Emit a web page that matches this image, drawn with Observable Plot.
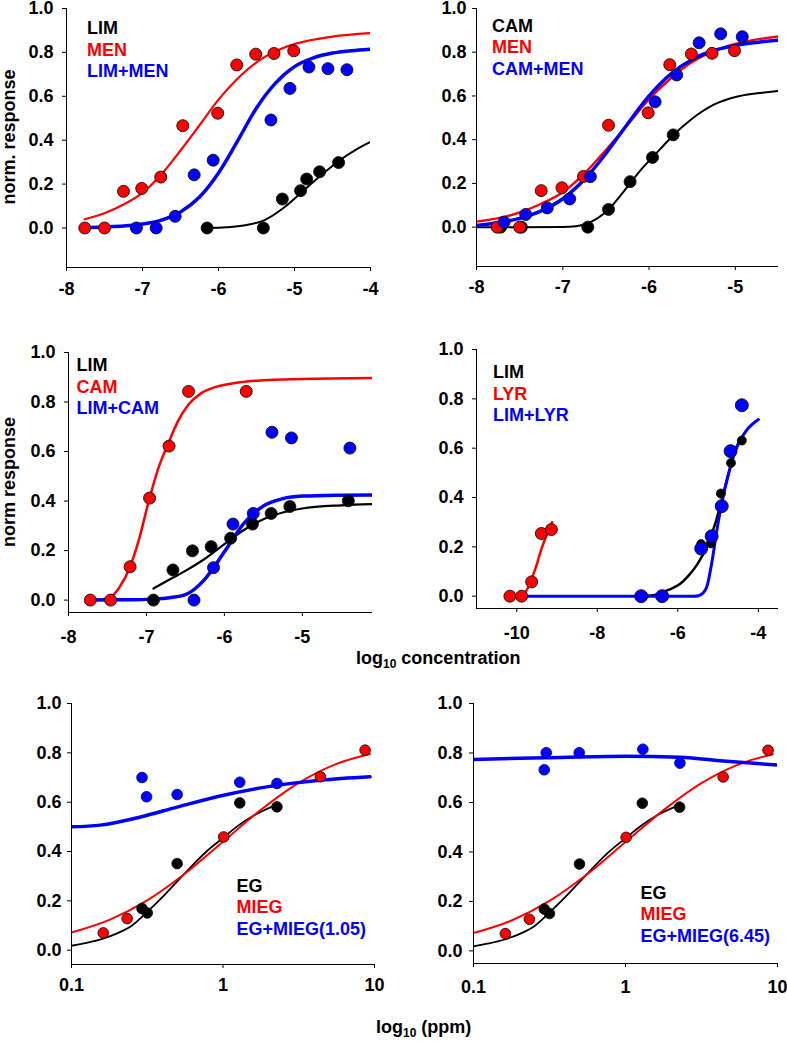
<!DOCTYPE html>
<html>
<head>
<meta charset="utf-8">
<script src="https://cdn.jsdelivr.net/npm/d3@7"></script>
<script src="https://cdn.jsdelivr.net/npm/@observablehq/plot@0.6"></script>
<style>
  body { margin: 0; background: #fff; }
  #wrap { position: relative; width: 787px; height: 1043px; font-family: "Liberation Sans", Arial, sans-serif; font-weight: bold; color: #000; }
  .panel { position: absolute; }
  .leg { position: absolute; font-size: 18px; line-height: 21.5px; white-space: nowrap; }
  .ytitle { position: absolute; font-size: 18px; line-height: 18px; white-space: nowrap; transform: translate(-50%, -50%) rotate(-90deg); }
  .xtitle { position: absolute; font-size: 18px; line-height: 21px; white-space: nowrap; }
  .xtitle sub { font-size: 12px; vertical-align: -4px; line-height: 0; }
</style>
</head>
<body>
<div id="wrap"></div>
<script>
// ---------- tick labels ----------
const yTicks = [0, 0.2, 0.4, 0.6, 0.8, 1.0];
const xTicksA = [-8, -7, -6, -5, -4];
const xTicksB = [-8, -7, -6, -5];
const xTicksC = [-8, -7, -6, -5];
const xTicksD = [-10, -8, -6, -4];
const xTicksE = [0.1, 1, 10];

// ---------- Panel A: LIM / MEN / LIM+MEN (log10 M) ----------
const menConc = [-7.76, -7.50, -7.25, -7.01, -6.76, -6.47, -6.01, -5.76, -5.51, -5.27, -5.01];
const menResp = [0, 0, 0.167, 0.18, 0.232, 0.466, 0.523, 0.743, 0.792, 0.795, 0.807];
const menFitConc = [-8, -7.76, -7.5, -7.25, -7, -6.75, -6.5, -6.25, -6, -5.75, -5.5, -5.25, -5, -4.5, -4];
const menFitResp = [0.025, 0.040, 0.067, 0.107, 0.160, 0.245, 0.353, 0.468, 0.585, 0.68, 0.755, 0.805, 0.838, 0.872, 0.888];

const limConcA = [-6.15, -5.41, -5.16, -4.92, -4.84, -4.67, -4.42];
const limRespA = [0, 0, 0.132, 0.17, 0.223, 0.256, 0.298];
const limFitConcA = [-6.15, -5.9, -5.65, -5.4, -5.15, -4.9, -4.65, -4.4, -4.2, -4];
const limFitRespA = [0, 0.003, 0.012, 0.035, 0.09, 0.165, 0.24, 0.31, 0.355, 0.392];

const limMenConc = [-7.08, -6.82, -6.57, -6.32, -6.07, -5.31, -5.06, -4.81, -4.56, -4.31];
const limMenResp = [0, 0, 0.053, 0.242, 0.309, 0.492, 0.636, 0.733, 0.726, 0.721];
const limMenFitConc = [-7.76, -7.5, -7.25, -7, -6.75, -6.5, -6.25, -6, -5.75, -5.5, -5.25, -5, -4.75, -4.5, -4.25, -4];
const limMenFitResp = [0.002, 0.005, 0.009, 0.018, 0.036, 0.073, 0.141, 0.251, 0.396, 0.547, 0.66, 0.735, 0.775, 0.797, 0.808, 0.815];

// ---------- Panel B: CAM / MEN / CAM+MEN ----------
const camConcB = [-7.72, -7.48, -6.71, -6.47, -6.22, -5.96, -5.72];
const camRespB = [0, 0, 0, 0.081, 0.208, 0.319, 0.422];
const camFitConcB = [-8, -7.5, -7, -6.85, -6.75, -6.6, -6.47, -6.35, -6.22, -6.1, -5.96, -5.84, -5.72, -5.52, -5.25, -5, -4.75, -4.5];
const camFitRespB = [0, 0, 0.001, 0.004, 0.012, 0.04, 0.08, 0.135, 0.2, 0.26, 0.32, 0.37, 0.42, 0.49, 0.56, 0.595, 0.612, 0.623];

const camMenConc = [-7.68, -7.43, -7.18, -6.92, -6.68, -5.93, -5.68, -5.42, -5.17, -4.92];
const camMenResp = [0.023, 0.058, 0.088, 0.129, 0.231, 0.573, 0.696, 0.843, 0.884, 0.871];
const camMenFitConc = [-8, -7.75, -7.5, -7.25, -7, -6.75, -6.5, -6.25, -6, -5.75, -5.5, -5.25, -5, -4.75, -4.5];
const camMenFitResp = [0.008, 0.02, 0.04, 0.074, 0.13, 0.218, 0.337, 0.472, 0.6, 0.7, 0.767, 0.808, 0.831, 0.845, 0.855];

// ---------- Panel C: LIM / CAM / LIM+CAM ----------
const camConcC = [-7.72, -7.46, -7.21, -6.96, -6.71, -6.46, -5.72];
const camRespC = [0, 0, 0.135, 0.412, 0.622, 0.843, 0.843];
const camFitConcC = [-7.72, -7.6, -7.46, -7.35, -7.21, -7.1, -6.96, -6.85, -6.71, -6.6, -6.46, -6.3, -6.1, -5.8, -5.5, -5, -4.1];
const camFitRespC = [0, 0.002, 0.012, 0.05, 0.135, 0.24, 0.412, 0.53, 0.64, 0.72, 0.79, 0.835, 0.862, 0.88, 0.888, 0.893, 0.897];

const limConcC = [-6.91, -6.66, -6.41, -6.17, -5.92, -5.64, -5.40, -5.16, -4.41];
const limRespC = [0, 0.122, 0.199, 0.216, 0.25, 0.307, 0.35, 0.378, 0.401];
const limFitConcC = [-6.91, -6.75, -6.5, -6.25, -6, -5.75, -5.5, -5.25, -5, -4.5, -4.1];
const limFitRespC = [0.047, 0.075, 0.118, 0.167, 0.226, 0.283, 0.327, 0.354, 0.370, 0.383, 0.388];

const limCamConc = [-6.39, -6.14, -5.89, -5.63, -5.39, -5.14, -4.39];
const limCamResp = [0, 0.131, 0.307, 0.35, 0.678, 0.655, 0.614];
const limCamFitConc = [-7.72, -7.25, -7, -6.75, -6.5, -6.25, -6, -5.75, -5.5, -5.25, -5, -4.5, -4.1];
const limCamFitResp = [0, 0.001, 0.003, 0.008, 0.022, 0.085, 0.195, 0.31, 0.38, 0.41, 0.42, 0.424, 0.425];

// ---------- Panel D: LIM / LYR / LIM+LYR ----------
const lyrConc = [-10.17, -9.88, -9.63, -9.39, -9.14];
const lyrResp = [0, 0, 0.058, 0.254, 0.27];
const lyrFitConc = [-10.17, -9.95, -9.86, -9.75, -9.63, -9.5, -9.39, -9.25, -9.12];
const lyrFitResp = [0, 0, 0.002, 0.025, 0.07, 0.13, 0.19, 0.25, 0.30];

const limConcD = [-6.93, -6.42, -5.42, -5.18, -4.93, -4.68, -4.41];
const limRespD = [0, 0, 0.211, 0.214, 0.416, 0.54, 0.631];
const limFitConcD = [-6.93, -6.6, -6.44, -6.2, -5.94, -5.75, -5.53, -5.28, -5.07, -4.91, -4.74, -4.58, -4.41];
const limFitRespD = [0, 0.004, 0.011, 0.028, 0.05, 0.08, 0.126, 0.2, 0.295, 0.39, 0.497, 0.585, 0.64];

const limLyrConc = [-6.91, -6.39, -5.42, -5.16, -4.91, -4.69, -4.41];
const limLyrResp = [0, 0, 0.193, 0.243, 0.365, 0.588, 0.774];
const limLyrFitConc = [-10.17, -6, -5.6, -5.49, -5.38, -5.28, -5.16, -5.03, -4.91, -4.74, -4.54, -4.29, -4];
const limLyrFitResp = [0, 0, 0, 0.002, 0.012, 0.038, 0.132, 0.268, 0.376, 0.497, 0.605, 0.673, 0.716];

// ---------- Panels E/F: EG / MIEG / EG+MIEG (ppm) ----------
const egPpm = [0.292, 0.316, 0.498, 1.29, 2.27];
const egResp = [0.169, 0.151, 0.351, 0.597, 0.581];
const egFitPpm = [0.1, 0.126, 0.158, 0.2, 0.251, 0.316, 0.398, 0.501, 0.631, 0.794, 1, 1.259, 1.585, 2.27];
const egFitResp = [0.018, 0.03, 0.045, 0.068, 0.1, 0.155, 0.215, 0.28, 0.345, 0.405, 0.455, 0.505, 0.545, 0.59];

const miegPpm = [0.162, 0.233, 1.01, 4.39, 8.67];
const miegResp = [0.07, 0.128, 0.459, 0.703, 0.811];
const miegFitPpm = [0.1, 0.178, 0.316, 0.562, 1, 1.78, 3.16, 5.62, 9.33];
const miegFitResp = [0.072, 0.123, 0.202, 0.311, 0.44, 0.569, 0.678, 0.755, 0.795];

const egMieg105Ppm = [0.292, 0.313, 0.498, 1.29, 2.27];
const egMieg105Resp = [0.70, 0.622, 0.631, 0.681, 0.676];
const egMieg105FitPpm = [0.1, 0.155, 0.285, 0.498, 1.01, 1.95, 4.39, 9.35];
const egMieg105FitResp = [0.5, 0.507, 0.54, 0.58, 0.628, 0.662, 0.689, 0.703];

const egMieg645Ppm = [0.292, 0.301, 0.496, 1.30, 2.28];
const egMieg645Resp = [0.732, 0.801, 0.801, 0.815, 0.759];
const egMieg645FitPpm = [0.1, 0.3, 1, 2.28, 4.4, 10];
const egMieg645FitResp = [0.774, 0.781, 0.787, 0.783, 0.768, 0.751];

// ---------- helpers ----------
const RED = "#ff0000", BLUE = "#0000ff", BLACK = "#000000";
const pts = (xs, ys) => xs.map((x, i) => ({x, y: ys[i]}));
const wrap = document.getElementById("wrap");

function panel(cfg) {
  const marks = [];
  for (const s of cfg.series) {
    marks.push(Plot.line(pts(s.fitX, s.fitY), {x: "x", y: "y", stroke: s.color, strokeWidth: s.lw, curve: "monotone-x", clip: true}));
  }
  for (const s of cfg.series) {
    marks.push(Plot.dot(pts(s.x, s.y), {x: "x", y: "y", r: s.r, fill: s.color, stroke: s.dotStroke ?? "#111", strokeWidth: 0.9}));
  }
  marks.push(Plot.ruleX([cfg.xDomain[0]], {stroke: "#000", strokeWidth: 1}));
  marks.push(Plot.ruleY([cfg.yDomain[0]], {stroke: "#000", strokeWidth: 1}));
  const chart = Plot.plot({
    width: cfg.width, height: cfg.height,
    marginLeft: cfg.ml, marginRight: cfg.mr, marginTop: cfg.mt, marginBottom: cfg.mb,
    style: {fontFamily: "'Liberation Sans', Arial, sans-serif", fontSize: "18px", fontWeight: "bold", color: "#000", background: "transparent", overflow: "visible"},
    x: {type: cfg.xType || "linear", domain: cfg.xDomain, ticks: cfg.xTicks, tickSize: 4, tickPadding: cfg.xpad, tickFormat: d => String(d), label: null},
    y: {domain: cfg.yDomain, ticks: yTicks, tickSize: 4, tickPadding: cfg.ypad, tickFormat: d3.format(".1f"), label: null},
    marks
  });
  const div = document.createElement("div");
  div.className = "panel";
  div.style.left = cfg.left + "px";
  div.style.top = cfg.top + "px";
  div.appendChild(chart);
  wrap.appendChild(div);
}

function legend(left, top, items) {
  const d = document.createElement("div");
  d.className = "leg";
  d.style.left = left + "px";
  d.style.top = top + "px";
  d.innerHTML = items.map(([t, c]) => `<div style="color:${c}">${t}</div>`).join("");
  wrap.appendChild(d);
}

function text(cls, left, top, html) {
  const d = document.createElement("div");
  d.className = cls;
  d.style.left = left + "px";
  d.style.top = top + "px";
  d.innerHTML = html;
  wrap.appendChild(d);
}

// Panel A
panel({left: 0, top: 0, width: 390, height: 310, ml: 66, mr: 20, mt: 8, mb: 43, xpad: 11, ypad: 9,
  xDomain: [-8, -4], yDomain: [-0.18, 1], xTicks: xTicksA,
  series: [
    {x: limConcA, y: limRespA, fitX: limFitConcA, fitY: limFitRespA, color: BLACK, lw: 2, r: 6},
    {x: menConc, y: menResp, fitX: menFitConc.filter(v => v >= d3.min(menConc)), fitY: menFitResp.filter((v, i) => menFitConc[i] >= d3.min(menConc)), color: RED, lw: 2.2, r: 6},
    {x: limMenConc, y: limMenResp, fitX: limMenFitConc, fitY: limMenFitResp, color: BLUE, lw: 3.5, r: 6}
  ]});
// Panel B
panel({left: 390, top: 0, width: 397, height: 310, ml: 86, mr: 9, mt: 8, mb: 44, xpad: 10, ypad: 6,
  xDomain: [-8, -4.5], yDomain: [-0.18, 1], xTicks: xTicksB,
  series: [
    {x: camConcB, y: camRespB, fitX: camFitConcB, fitY: camFitRespB, color: BLACK, lw: 2, r: 6},
    {x: menConc, y: menResp, fitX: menFitConc, fitY: menFitResp, color: RED, lw: 2.4, r: 6},
    {x: camMenConc, y: camMenResp, fitX: camMenFitConc, fitY: camMenFitResp, color: BLUE, lw: 3.5, r: 6}
  ]});
// Panel C
panel({left: 0, top: 320, width: 390, height: 330, ml: 68, mr: 18, mt: 32, mb: 38, xpad: 14, ypad: 9,
  xDomain: [-8, -4.1], yDomain: [-0.05, 1], xTicks: xTicksC,
  series: [
    {x: limConcC, y: limRespC, fitX: limFitConcC, fitY: limFitRespC, color: BLACK, lw: 2.2, r: 6},
    {x: camConcC, y: camRespC, fitX: camFitConcC, fitY: camFitRespC, color: RED, lw: 2.5, r: 6},
    {x: limCamConc, y: limCamResp, fitX: limCamFitConc, fitY: limCamFitResp, color: BLUE, lw: 3.5, r: 6}
  ]});
// Panel D
panel({left: 390, top: 320, width: 397, height: 330, ml: 86, mr: 9, mt: 29, mb: 42, xpad: 14, ypad: 9,
  xDomain: [-11, -3.5], yDomain: [-0.05, 1], xTicks: xTicksD,
  series: [
    {x: limConcD, y: limRespD, fitX: limFitConcD, fitY: limFitRespD, color: BLACK, lw: 2.5, r: 4.5},
    {x: lyrConc, y: lyrResp, fitX: lyrFitConc, fitY: lyrFitResp, color: RED, lw: 2.5, r: 6},
    {x: limLyrConc, y: limLyrResp, fitX: limLyrFitConc, fitY: limLyrFitResp, color: BLUE, lw: 3, r: 6.5}
  ]});
// Panel E
panel({left: 0, top: 690, width: 390, height: 310, ml: 71, mr: 16, mt: 13, mb: 36, xpad: 10, ypad: 6,
  xType: "log", xDomain: [0.1, 10], yDomain: [-0.058, 1], xTicks: xTicksE,
  series: [
    {x: egPpm, y: egResp, fitX: egFitPpm, fitY: egFitResp, color: BLACK, lw: 1.8, r: 5.3},
    {x: miegPpm, y: miegResp, fitX: miegFitPpm, fitY: miegFitResp, color: RED, lw: 2, r: 5.3},
    {x: egMieg105Ppm, y: egMieg105Resp, fitX: egMieg105FitPpm, fitY: egMieg105FitResp, color: BLUE, lw: 3.5, r: 5.3, dotStroke: "#0000b0"}
  ]});
// Panel F
panel({left: 390, top: 690, width: 397, height: 310, ml: 83, mr: 10, mt: 13, mb: 37, xpad: 13, ypad: 7,
  xType: "log", xDomain: [0.1, 10], yDomain: [-0.051, 1], xTicks: xTicksE,
  series: [
    {x: egPpm, y: egResp, fitX: egFitPpm, fitY: egFitResp, color: BLACK, lw: 1.8, r: 5.3},
    {x: miegPpm, y: miegResp, fitX: miegFitPpm, fitY: miegFitResp, color: RED, lw: 2, r: 5.3},
    {x: egMieg645Ppm, y: egMieg645Resp, fitX: egMieg645FitPpm, fitY: egMieg645FitResp, color: BLUE, lw: 3.5, r: 5.3, dotStroke: "#0000b0"}
  ]});

// Legends
legend(87, 18.3, [["LIM", BLACK], ["MEN", RED], ["LIM+MEN", BLUE]]);
legend(492, 15.6, [["CAM", BLACK], ["MEN", RED], ["CAM+MEN", BLUE]]);
legend(76.5, 355, [["LIM", BLACK], ["CAM", RED], ["LIM+CAM", BLUE]]);
legend(493, 362.3, [["LIM", BLACK], ["LYR", RED], ["LIM+LYR", BLUE]]);
legend(236.5, 875.6, [["EG", BLACK], ["MIEG", RED], ["EG+MIEG(1.05)", BLUE]]);
legend(640.5, 882.6, [["EG", BLACK], ["MIEG", RED], ["EG+MIEG(6.45)", BLUE]]);

// Axis titles
text("ytitle", 9, 137, "norm. response");
text("ytitle", 9, 482, "norm response");
text("xtitle", 356, 647.6, "log<sub>10</sub> concentration");
text("xtitle", 376, 1017.3, "log<sub>10</sub> (ppm)");
</script>
</body>
</html>
